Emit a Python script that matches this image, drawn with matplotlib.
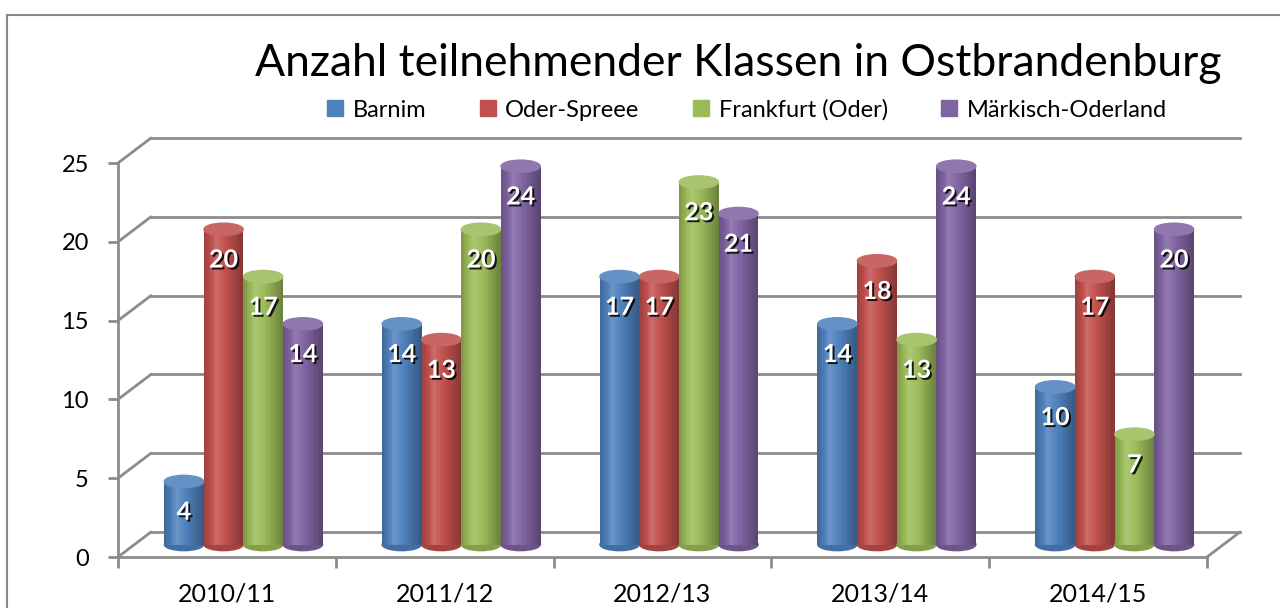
import numpy as np
import matplotlib.pyplot as plt
import matplotlib.patheffects as pe
from matplotlib.patches import Ellipse, Rectangle, ConnectionPatch
from matplotlib.lines import Line2D
from matplotlib.transforms import Affine2D
from matplotlib.colors import to_rgb

plt.rcParams['font.family'] = ['Lato', 'DejaVu Sans']

years = ["2010/11", "2011/12", "2012/13", "2013/14", "2014/15"]
series = ["Barnim", "Oder-Spreee", "Frankfurt (Oder)", "Märkisch-Oderland"]
barnim = [4, 14, 17, 14, 10]
oder_spree = [20, 13, 17, 18, 17]
frankfurt = [17, 20, 23, 13, 7]
maerkisch = [14, 24, 21, 24, 20]
values = [barnim, oder_spree, frankfurt, maerkisch]
colors = ["#4F81BD", "#C0504D", "#9BBB59", "#8064A2"]
yticks = [0, 5, 10, 15, 20, 25]

grey = "#8c8c8c"

fig = plt.figure(figsize=(12.8, 6.08), dpi=100)
ax = fig.add_axes([118 / 1280, 51 / 608, 1089 / 1280, 394 / 608])
ax.set_xlim(-0.5, len(years) - 0.5)
ax.set_ylim(0, 25)

# pseudo-3D depth: back wall and mid plane (pixels)
back = ax.transData + Affine2D().translate(33, 25)
mid = ax.transData + Affine2D().translate(16.5, 12.5)

for s in ["top", "right"]:
    ax.spines[s].set_visible(False)
for s in ["left", "bottom"]:
    ax.spines[s].set_color(grey)
    ax.spines[s].set_linewidth(2)

ax.set_yticks(yticks)
ax.tick_params(axis="y", length=7, width=2, color=grey, labelsize=17, pad=14)
ax.set_xticks(np.arange(-0.5, len(years)), labels=[""] * (len(years) + 1))
ax.set_xticks(np.arange(len(years)), labels=years, minor=True)
ax.tick_params(axis="x", which="major", length=8, width=2, color=grey)
ax.tick_params(axis="x", which="minor", length=0, labelsize=18, pad=18)

# back gridlines and side diagonals
for y in yticks:
    ax.plot([-0.5, len(years) - 0.5], [y, y], color=grey, lw=2,
            transform=back, clip_on=False, zorder=1)
    ax.add_artist(ConnectionPatch((-0.5, y), (-0.5, y), coordsA=ax.transData,
                                  coordsB=back, color=grey, lw=2, zorder=1))
ax.add_artist(ConnectionPatch((len(years) - 0.5, 0), (len(years) - 0.5, 0),
                              coordsA=ax.transData, coordsB=back,
                              color=grey, lw=2, zorder=1))

# cylinders
w = 0.182
nstrip = 24
t = np.linspace(0, 1, nstrip)
shade = np.interp(t, [0, 0.3, 0.55, 1], [0.82, 1.1, 1.0, 0.7])

def tone(c, f):
    c = np.array(to_rgb(c))
    if f >= 1:
        return tuple(c + (1 - c) * (f - 1) * 1.6)
    return tuple(c * f)

x = np.arange(len(years))
cap_h = 0.78
for i, (vals, c) in enumerate(zip(values, colors)):
    xs = x + (i - 1.5) * w
    for xc, v in zip(xs, vals):
        ax.add_patch(Ellipse((xc, 0), w * 0.99, cap_h, color=tone(c, 0.85),
                             transform=mid, zorder=3, clip_on=False))
        ax.bar(xc - w / 2 + (np.arange(nstrip) + 0.5) * w / nstrip,
               [v] * nstrip, width=w / nstrip * 1.05,
               color=[tone(c, f) for f in shade], transform=mid,
               zorder=3, linewidth=0, clip_on=False)
        ax.add_patch(Ellipse((xc, v), w * 0.99, cap_h, color=tone(c, 1.08),
                             transform=mid, zorder=4, clip_on=False))
        ax.text(xc, v - 1.95, str(v), transform=mid, ha="center", va="center",
                color="white", fontsize=18, fontweight="bold", zorder=5,
                path_effects=[pe.withSimplePatchShadow(offset=(1.4, -1.4),
                                                       shadow_rgbFace="black",
                                                       alpha=0.85)])

fig.text(738 / 1280, 1 - 63 / 608, "Anzahl teilnehmender Klassen in Ostbrandenburg",
         ha="center", va="center", fontsize=32)

handles = [Line2D([], [], marker="s", ls="", color=c, markersize=11) for c in colors]
fig.legend(handles, series, ncol=4, loc="center", frameon=False, fontsize=17,
           bbox_to_anchor=(745 / 1280, 1 - 110 / 608), handletextpad=0.25,
           columnspacing=2.1, handlelength=1.0)

fig.add_artist(Rectangle((7 / 1280, -0.05), 1.1, 1 - 15 / 608 + 0.05,
                         transform=fig.transFigure, fill=False,
                         edgecolor="#888888", lw=1.5, clip_on=False))

plt.savefig("out.png", dpi=100)
